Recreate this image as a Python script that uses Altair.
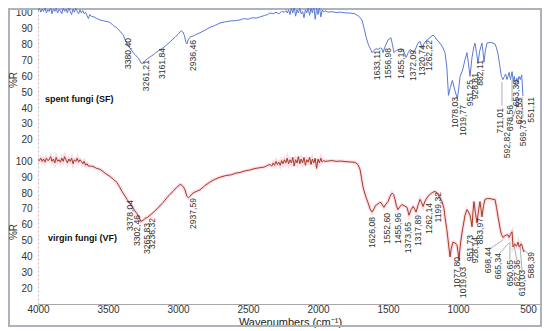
import altair as alt
import pandas as pd

# ---------------- data ----------------
sf_wn = [4000,3990,3980,3970,3960,3950,3940,3930,3920,3910,3900,3890,3880,3870,3860,3850,3840,3830,3820,3810,
         3800,3790,3780,3770,3760,3750,3740,3730,3720,3710,3700,3690,3680,3670,3660,3650,3640,3630,3620,3600,
         3580,3557,3530,3500,3486,3460,3436,3410,3390,3380,3360,3340,3320,3300,3282,3265,3255,3240,3220,3196,
         3170,3161,3150,3125,3100,3080,3054,3036,3018,3000,2986,2975,2965,2955,2945,2936,2928,2911,2890,2870,
         2843,2800,2771,2740,2700,2660,2620,2590,2557,2530,2500,2470,2440,2414,2380,2360,2343,2320,2300,2280,
         2260,2240,2230,2220,2210,2200,2190,2180,2170,2160,2150,2140,2130,2120,2110,2100,2090,2080,2070,2060,
         2050,2040,2030,2020,2010,2000,1990,1980,1970,1960,1950,1930,1900,1870,1840,1800,1770,1736,1710,1686,
         1670,1657,1640,1629,1614,1600,1585,1571,1555,1543,1536,1520,1500,1479,1468,1457,1440,1414,1400,1393,
         1380,1371,1355,1343,1328,1314,1300,1286,1270,1257,1240,1221,1200,1179,1165,1150,1129,1110,1093,1080,
         1068,1055,1040,1025,1005,995,985,967,950,936,925,914,900,886,879,868,857,845,829,822,
         814,805,793,770,750,736,725,714,700,690,679,668,660,650,643,635,625,614,605,598,
         590,580,572,565,555,545,536]
sf_r = [101.5,103,100.5,102.5,101,103.5,100,102,101,103.5,99.5,102.5,101,103,100,102,101.5,99.5,103,101,
        102.5,100,103.5,101,99,102.5,100.5,103,101,99.5,102,100,101.5,99.5,100.5,98.5,96.5,99,98,97.5,
        96.5,95.6,95,94.5,94,92,90.6,88,86,83.5,80,77.5,75,73,71.5,68.5,68,69.5,71,72.5,
        74,75,75.5,77,78.5,80,82,83.5,85,86.5,88,88.7,88,86,82,80.5,83,85,85.5,86.5,
        87.5,89.5,91,92,93.7,94.5,95,95.2,95.6,96.5,96,97,96.8,97.5,98.5,99,100,99.5,100.5,99.5,
        101,100.5,101.5,100,102,99,103,100,104,98,102,100,103,99.5,101,97,102,100,103.5,98.5,
        103,100,104.5,96,103,99,104,97.5,102,100.5,101.5,100.5,100.8,100.3,100.5,100,100,99.5,98,95.6,
        90,85,80,78,75,76.5,77.5,77,78,77.5,75,79,83,84.4,80,75,76.5,77,76.5,77,
        74,72,75,77,76,75,78,81,82,78,81,83,84.5,86,85,83,81,78.5,75,66,
        48,53,57.5,52,46,52,60,64,70.6,75,68,60,72,79,81,75,68.7,76,81,76,
        69,76,81,81.5,81,80.5,78,74,66,60,58,60,61.5,58,60,62.5,58,63,57,60,
        55,59,56,60,58,61,47.5]

vf_wn = [4000,3990,3980,3970,3960,3950,3940,3930,3920,3910,3900,3890,3880,3870,3860,3850,3840,3830,3820,3810,
         3800,3790,3780,3770,3760,3750,3740,3730,3720,3710,3700,3690,3680,3670,3660,3650,3640,3620,3600,3580,
         3557,3520,3486,3460,3436,3418,3400,3378,3364,3345,3329,3310,3293,3275,3265,3257,3245,3236,3221,3200,
         3179,3150,3107,3080,3060,3036,3010,2986,2975,2962,2950,2937,2925,2914,2893,2870,2843,2810,2771,2740,
         2700,2660,2620,2590,2557,2520,2490,2450,2414,2380,2360,2343,2330,2320,2310,2300,2290,2280,2270,2260,
         2250,2240,2230,2220,2210,2200,2190,2180,2170,2160,2150,2140,2130,2120,2110,2100,2090,2080,2070,2060,
         2050,2040,2030,2020,2010,2000,1990,1980,1970,1960,1950,1930,1900,1870,1840,1800,1770,1736,1715,1700,
         1690,1679,1660,1643,1628,1614,1600,1590,1579,1560,1550,1540,1529,1515,1500,1485,1471,1460,1450,1440,
         1429,1415,1400,1385,1364,1350,1335,1321,1310,1300,1285,1271,1260,1250,1235,1214,1195,1180,1164,1155,
         1143,1130,1114,1100,1093,1080,1071,1057,1048,1036,1020,1007,1000,993,985,975,964,950,936,925,
         914,907,900,893,886,875,864,855,843,836,829,818,807,790,770,750,736,725,714,700,
         690,679,665,655,643,635,625,614,607,595,585,579,571,563,557,550,543,536,529]
vf_r = [101,100.5,102,100,101.5,99.5,102,100.5,101,103,100,101.5,99,102.5,100,101,99.5,102,100,103,
        101,99,101.5,100,102,98.5,101,100,102,99.5,101,100,98.5,100,97.5,98.5,97,97,96.5,95.5,
        95,92.5,90.5,88.5,86.7,84,81,78,76,73.5,71.5,69,67,64,62,62.5,63,64,64.4,66,
        67.6,70,74,77,79,81,83.5,85.4,85,84,82,78,77,78,80,81,82,84.5,87,88.5,
        90,91,91.5,92.5,93,94,94.5,95.5,96,96.5,97.5,98,97,99,97.5,100,98,99.5,97.5,100.5,
        98.5,101,99,102,98.5,101,99,102.5,97,101,99,103,98.5,101.5,99,102.5,97.5,101,99.5,102.5,
        98,101.5,99,102,95.5,101.5,99,102,99.5,100.5,100,100.2,100.5,100,100.2,99.8,99.6,99.4,98,95,
        90,84,78,74,70,68,70,72,72.7,74,74,72.5,71,73,74.6,78,80,79,76,72,
        69.5,71.5,72.7,72,71,66,69.5,71.5,70,68,72.5,76,74,71.5,75,78,79.5,80.5,81,80.5,
        79,77,74.6,70,65,57,50.5,39.7,45,49,48.5,47,43,37.8,46,53,58.7,66,69.5,68,
        66,63,58.7,68,74.6,67,61,68,74.6,70,65,72,76,76.5,76.5,76,76,71,65,58,
        54,52,53,53.5,53.7,52,54,55.6,46,48,46.5,47,49,46,46.5,48,47,44.5,42.8]

sf_label_text = ["3380,40","3261,21","3161,84","2936,46","1633,11","1556,98","1455,19","1372,09","1320,74",
                 "1262,22","1078,03","1019,77","951,25","928,81","882,11","711,01","678,56","653,30",
                 "629,53","592,82","569,73","551,11"]
sf_label_wn = [3357,3229,3114,2893,1579,1500,1407,1321,1257,1207,1021,964,914,879,843,700,629,586,564,650,536,479]
sf_label_r = [84.2,70.3,77.9,83.0,76.7,77.9,77.9,76.7,79.8,83.0,47.0,42.0,57.7,62.1,70.3,40.1,42.0,57.7,46.4,24.9,32.5,47.0]

vf_label_text = ["3378,04","3302,46","3265,83","3236,32","2937,59","1626,08","1552,60","1455,96","1373,65",
                 "1317,89","1262,14","1199,32","1077,80","1019,03","951,73","928,14","883,97","698,44",
                 "665,34","650,65","627,36","610,03","588,39"]
vf_label_wn = [3343,3293,3221,3186,2893,1614,1507,1429,1357,1286,1207,1143,1007,964,914,879,843,786,714,629,579,543,479]
vf_label_r = [75.6,66.2,61.1,64.3,76.9,64.9,67.4,67.4,61.7,66.2,73.7,80.7,39.7,33.3,53.5,52.3,64.3,46.0,42.2,37.8,37.8,31.5,42.8]

# leader lines (wavenumber / %R at both ends)
sf_lead_wn1 = [686, 614, 557, 543]
sf_lead_r1 = [56.5, 58, 46, 47]
sf_lead_wn2 = [686, 614, 643, 536]
sf_lead_r2 = [41.5, 44, 26.5, 34]
vf_lead_wn1 = [679, 636, 629, 600, 557, 529]
vf_lead_r1 = [50.4, 48.5, 49.1, 47.2, 47.2, 44]
vf_lead_wn2 = [764, 700, 629, 579, 543, 493]
vf_lead_r2 = [45.3, 42.2, 37.8, 37.8, 31.5, 41.5]

panel_names = ["spent fungi (SF)", "virgin fungi (VF)"]
x_ticks = [4000, 3500, 3000, 2500, 2000, 1500, 1000, 500]
y_ticks = [20, 30, 40, 50, 60, 70, 80, 90, 100]

OFF = 93.6  # vertical offset of the upper (SF) panel in the shared y scale

# ---------------- tables ----------------
sf = pd.DataFrame({"wn": sf_wn, "y": [v + OFF for v in sf_r]})
vf = pd.DataFrame({"wn": vf_wn, "y": vf_r})
sf_lab = pd.DataFrame({"t": sf_label_text, "wn": sf_label_wn, "y": [v + OFF for v in sf_label_r]})
vf_lab = pd.DataFrame({"t": vf_label_text, "wn": vf_label_wn, "y": vf_label_r})
leads = pd.DataFrame({
    "wn": sf_lead_wn1 + vf_lead_wn1,
    "wn2": sf_lead_wn2 + vf_lead_wn2,
    "y": [v + OFF for v in sf_lead_r1] + vf_lead_r1,
    "y2": [v + OFF for v in sf_lead_r2] + vf_lead_r2,
})
names = pd.DataFrame({"t": panel_names, "wn": [3950, 3929], "y": [45.7 + OFF, 51.6]})
one = pd.DataFrame({"a": [0]})

yvals = y_ticks + [v + OFF for v in y_ticks]

xs = alt.Scale(domain=[4000, 400], nice=False, zero=False)
ys = alt.Scale(domain=[10, 196.75], nice=False, zero=False)

X = alt.X("wn:Q", scale=xs, axis=alt.Axis(
    values=x_ticks, grid=False, title="Wavenumbers (cm⁻¹)", titleFontSize=11,
    titleFontWeight="normal", titleColor="#222", titleY=18, titleBaseline="middle",
    labelFontSize=10, labelColor="#333", labelPadding=-2, tickSize=2, tickColor="#bbbbbb",
    domainColor="#a8a8a8", format="d", labelFlush=False))
Y = alt.Y("y:Q", scale=ys, axis=alt.Axis(
    values=yvals, grid=False, title="", ticks=False, labelPadding=6, labelFontSize=10,
    labelColor="#333", domainColor="#c9b9c2", domainDash=[2, 2],
    labelExpr="datum.value > 105 ? format(datum.value - %s, '.0f') : format(datum.value, '.0f')" % OFF))

frame = alt.Chart(one).mark_rect(filled=False, stroke="#aeb2bd", strokeWidth=2).encode(
    x=alt.value(-29), x2=alt.value(503), y=alt.value(1), y2=alt.value(318))

halo = alt.Chart(vf).mark_line(color="#f7b3cf", strokeWidth=3.5, opacity=0.45, clip=True).encode(x=X, y=Y)
vf_line = alt.Chart(vf).mark_line(color="#a83a1e", strokeWidth=1, clip=True).encode(x=X, y=Y)
sf_line = alt.Chart(sf).mark_line(color="#5b79d4", strokeWidth=1, clip=True).encode(x=X, y=Y)

lead_rules = alt.Chart(leads).mark_rule(color="#777777", strokeWidth=0.6).encode(
    x=X, y=Y, x2="wn2:Q", y2="y2:Q")

lab_style = dict(angle=270, align="right", baseline="middle", fontSize=8.6, color="#333333")
sf_text = alt.Chart(sf_lab).mark_text(**lab_style).encode(x=X, y=Y, text="t:N")
vf_text = alt.Chart(vf_lab).mark_text(**lab_style).encode(x=X, y=Y, text="t:N")

name_text = alt.Chart(names).mark_text(align="left", baseline="middle", fontSize=9,
                                       fontWeight="bold", color="#111111").encode(x=X, y=Y, text="t:N")

r_top = alt.Chart(one).mark_text(angle=270, align="center", baseline="middle", fontSize=10,
                                 color="#333333", text="%R").encode(x=alt.value(-24), y=alt.value(72))
r_bot = alt.Chart(one).mark_text(angle=270, align="center", baseline="middle", fontSize=10,
                                 color="#333333", text="%R").encode(x=alt.value(-24), y=alt.value(224))

chart = alt.layer(frame, halo, vf_line, sf_line, lead_rules, sf_text, vf_text, name_text, r_top, r_bot).properties(
    width=504, height=296,
    padding={"left": 30, "top": 0, "right": 0, "bottom": 24},
    autosize=alt.AutoSizeParams(type="none"),
).configure(font="Liberation Sans").configure_view(stroke="transparent")

chart.save("out.html", embed_options={"renderer": "svg", "actions": False})
